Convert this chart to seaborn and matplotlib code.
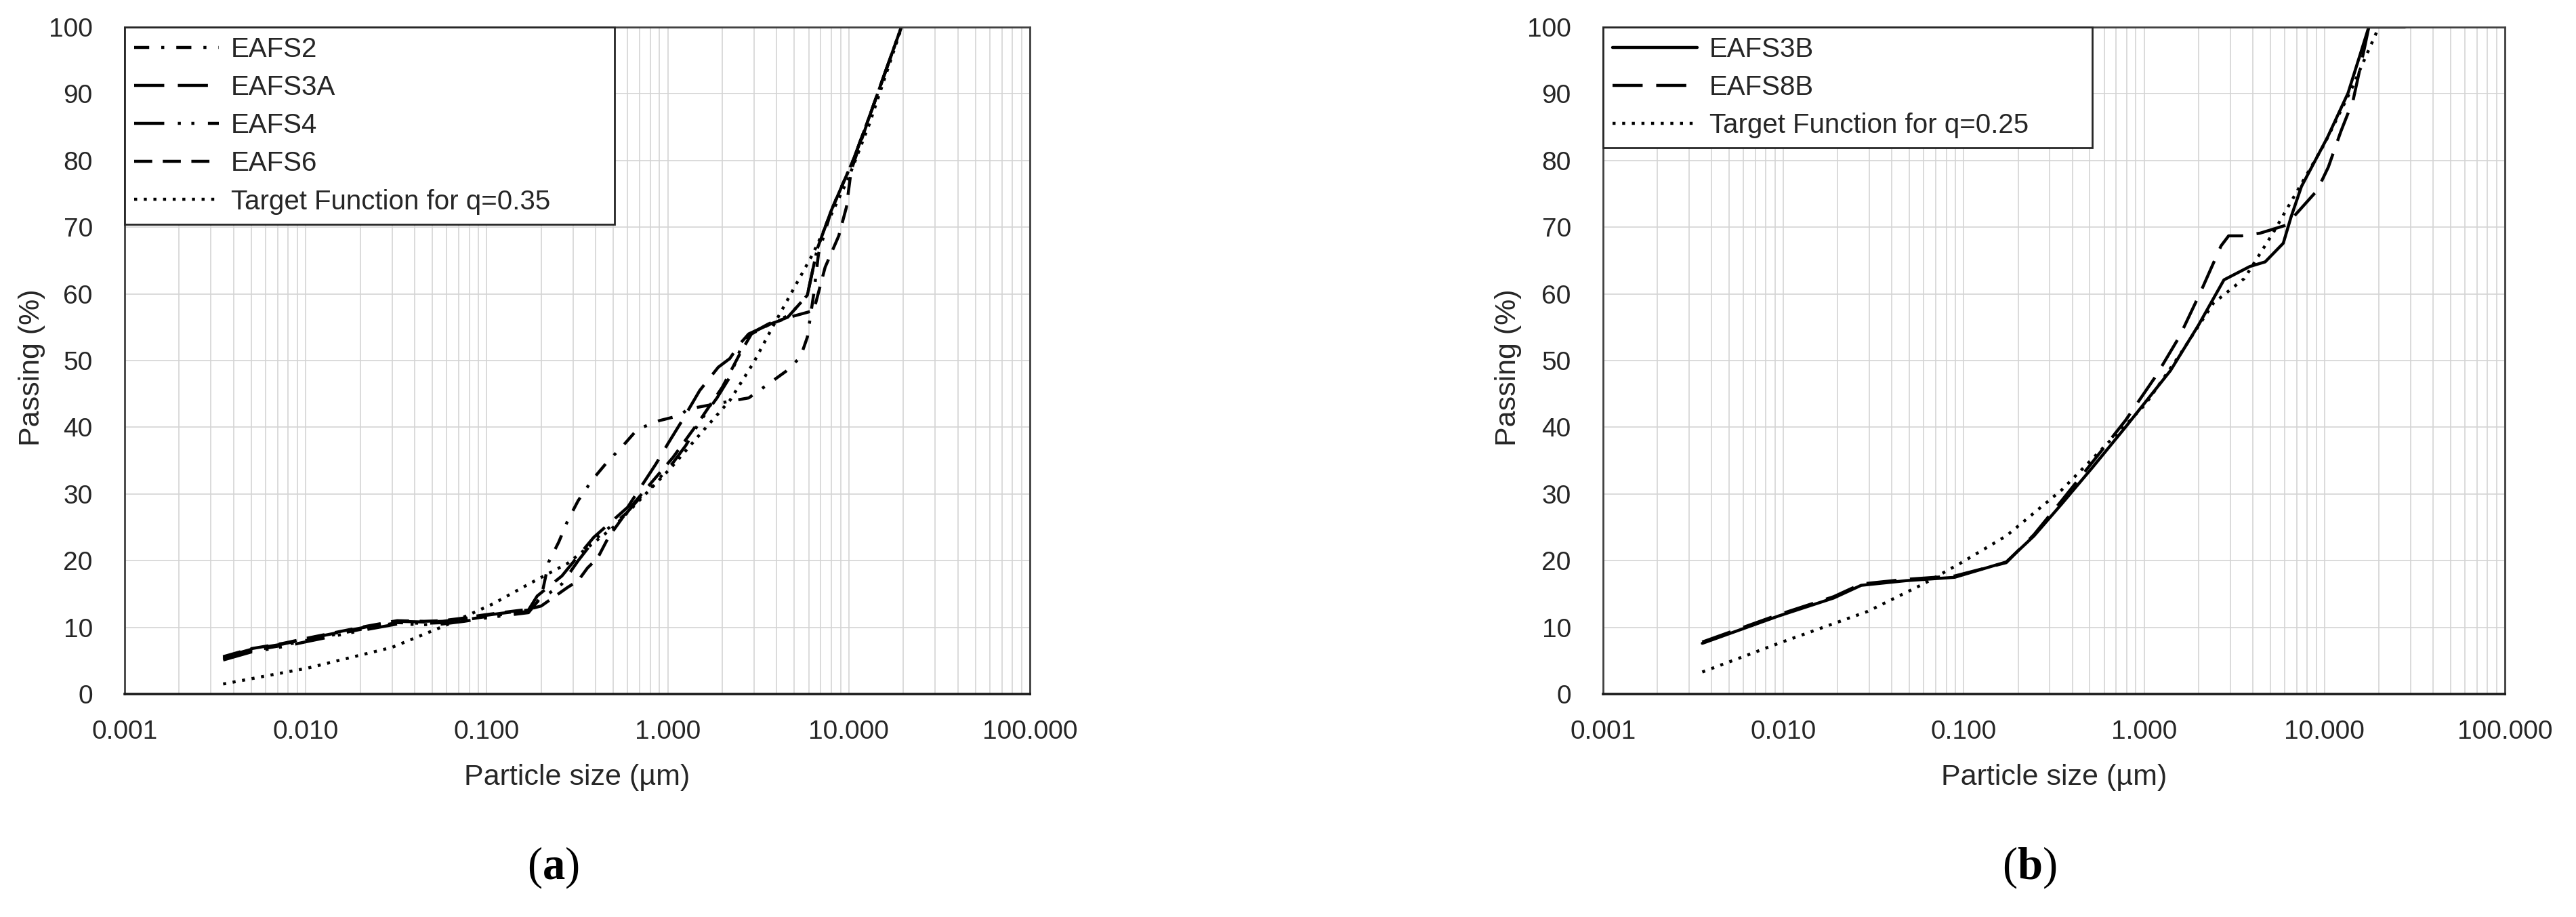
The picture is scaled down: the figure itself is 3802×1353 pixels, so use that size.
#_Environment Set up -----------------
import numpy as np
import pandas as pd
import matplotlib
matplotlib.use("Agg")
import matplotlib.pyplot as plt
import seaborn as sns
from matplotlib.ticker import LogLocator, FuncFormatter, NullFormatter

#_Data -----------------------------------------

#__Panel (a) -----------------
eafs2_x = [0.0035, 0.005, 0.0075, 0.0103, 0.015, 0.022, 0.032, 0.045, 0.057, 0.075, 0.093, 0.12, 0.17,
           0.20, 0.22, 0.25, 0.28, 0.32, 0.38, 0.46, 0.56, 0.68, 0.90,
           1.18, 1.28, 2.2, 2.8, 3.6, 4.5, 5.4, 5.9, 6.4, 6.8, 8.0, 10.7, 13.0, 19.5]
eafs2_y = [5.3, 6.5, 7.3, 8.1, 9.0, 9.9, 10.7, 10.6, 10.7, 11.1, 11.5, 11.9, 12.4,
           14.5, 19.8, 22.8, 26.0, 29.0, 32.0, 34.7, 37.1, 39.7, 41.0,
           41.8, 42.7, 43.9, 44.4, 46.5, 48.4, 50.5, 53.5, 60.0, 66.0, 72.5, 80.4, 86.6, 100.0]

eafs3a_x = [0.0035, 0.005, 0.0075, 0.0103, 0.015, 0.022, 0.032, 0.045, 0.057, 0.075, 0.093, 0.12, 0.17,
            0.19, 0.26, 0.32, 0.39, 0.60, 0.86, 1.0, 1.2, 1.5, 1.9, 2.2, 2.5, 2.8,
            3.7, 4.6, 5.9, 6.7, 8.0, 10.7, 13.0, 19.5]
eafs3a_y = [5.5, 6.7, 7.5, 8.3, 9.2, 10.1, 10.9, 10.8, 10.9, 11.3, 11.7, 12.1, 12.6,
            14.7, 17.7, 20.7, 23.5, 28.0, 34.5, 37.5, 41.0, 45.5, 49.0, 50.3, 52.5, 54.0,
            55.5, 56.5, 59.8, 66.8, 72.5, 80.4, 86.6, 100.0]

eafs4_x = [0.0035, 0.005, 0.0075, 0.0103, 0.015, 0.022, 0.032, 0.045, 0.057, 0.075, 0.093, 0.12, 0.17,
           0.19, 0.26, 0.32, 0.39, 0.59, 0.70, 0.83, 1.07, 1.26, 1.49, 1.87, 2.2, 2.51, 2.77,
           3.6, 4.7, 5.9, 6.7, 8.0, 10.7, 13.0, 19.5]
eafs4_y = [5.1, 6.3, 7.1, 7.9, 8.8, 9.7, 10.5, 10.4, 10.5, 10.9, 11.3, 11.7, 12.2,
           13.8, 16.5, 20.0, 23.0, 27.1, 29.4, 31.3, 34.7, 37.3, 40.7, 44.4, 47.5, 51.6, 53.8,
           55.5, 56.8, 59.8, 66.8, 72.5, 80.4, 86.6, 100.0]

eafs6_x = [0.0035, 0.005, 0.0075, 0.0103, 0.015, 0.022, 0.032, 0.045, 0.057, 0.075, 0.093, 0.12, 0.17,
           0.20, 0.28, 0.32, 0.36, 0.41, 0.46, 0.50, 0.60, 0.80, 1.07, 1.5, 2.0, 2.5, 2.9,
           3.7, 4.7, 6.4, 7.4, 8.8, 9.7, 10.3, 13.0, 19.5]
eafs6_y = [5.6, 6.8, 7.6, 8.4, 9.3, 10.2, 11.0, 10.9, 11.0, 11.4, 11.8, 12.2, 12.7,
           13.2, 16.0, 17.0, 18.9, 20.4, 23.0, 24.5, 27.5, 31.5, 35.5, 41.0, 46.0, 51.0, 54.0,
           55.5, 56.5, 57.5, 64.0, 68.7, 73.0, 78.5, 86.6, 100.0]

target_a_x = [0.0035, 0.0103, 0.030, 0.057, 0.108, 0.171, 0.28, 0.50, 1.04, 1.49, 2.2, 2.98, 3.84,
              6.33, 10.0, 13.0, 19.6]
target_a_y = [1.5, 3.9, 7.0, 10.1, 13.5, 16.5, 19.6, 25.0, 33.9, 38.8, 44.0, 49.7, 55.3,
              66.0, 77.5, 85.5, 100.0]

#__Panel (b) -----------------
eafs3b_x = [0.00355, 0.0094, 0.019, 0.027, 0.048, 0.089, 0.172, 0.245, 0.349, 0.518, 0.787, 1.4, 2.0,
            2.77, 3.85, 4.69, 5.91, 6.52, 7.45, 10.4, 13.5, 17.6, 28.0]
eafs3b_y = [7.6, 11.7, 14.4, 16.3, 17.0, 17.5, 19.8, 23.7, 28.5, 34.0, 40.0, 48.5, 55.3,
            62.1, 64.1, 64.8, 67.6, 71.5, 76.1, 83.5, 90.1, 100.0, 100.0]

eafs8b_x = [0.00355, 0.0094, 0.019, 0.027, 0.048, 0.089, 0.172, 0.245, 0.349, 0.518, 0.787, 1.17, 1.57,
            2.05, 2.67, 2.94, 3.48, 4.39, 6.12, 9.1, 10.5, 12.3, 14.4, 16.7, 17.6]
eafs8b_y = [7.8, 11.9, 14.6, 16.5, 17.2, 17.7, 19.7, 23.9, 29.0, 34.8, 41.0, 47.8, 53.6,
            60.2, 67.2, 68.7, 68.7, 69.1, 70.3, 75.5, 79.0, 84.3, 89.0, 97.0, 100.0]

target_b_x = [0.00355, 0.0094, 0.0294, 0.0597, 0.097, 0.172, 0.349, 0.80, 1.02, 1.57, 2.42, 3.59,
              5.18, 6.52, 10.0, 14.0, 20.0]
target_b_y = [3.3, 7.6, 12.4, 16.5, 19.7, 23.7, 30.6, 40.5, 43.5, 50.8, 58.6, 62.3,
              69.1, 73.8, 82.5, 90.5, 100.0]

#_Style set up -----------------
sns.set_theme(style="white")
plt.rcParams['font.family'] = ['Liberation Sans', 'DejaVu Sans']
plt.rcParams['mathtext.fontset'] = 'custom'
plt.rcParams['mathtext.rm'] = 'Liberation Serif'
plt.rcParams['mathtext.bf'] = 'Liberation Serif:bold'

TEXT = '#262626'
LW = 3.2
# dash patterns, in units of line width
DASH_DOT = (5.0, 4.0, 1.0, 4.0)
LONG_DASH = (10, 4.5)
LONG_DASH_DOT_DOT = (10, 4.5, 1, 3.5, 1, 4.5)
SHORT_DASH = (6, 3.5)
DOTS = (1, 2.2)

W, H = 3802, 1353
fig = plt.figure(figsize=(W / 100, H / 100), dpi=100)
ax_a = fig.add_axes([184 / W, 1 - 1024 / H, 1336 / W, 984 / H])
ax_b = fig.add_axes([2366 / W, 1 - 1024 / H, 1331 / W, 984 / H])


def style_axis(ax):
    ax.set_xscale('log')
    ax.set_xlim(0.001, 100)
    ax.set_ylim(0, 100)
    ax.set_yticks(range(0, 101, 10))
    ax.xaxis.set_major_locator(LogLocator(base=10, numticks=10))
    ax.xaxis.set_minor_locator(LogLocator(base=10, subs=np.arange(2, 10), numticks=100))
    ax.xaxis.set_major_formatter(FuncFormatter(lambda v, p: f'{v:.3f}'))
    ax.xaxis.set_minor_formatter(NullFormatter())
    ax.set_axisbelow(True)
    ax.grid(True, which='major', color='#d4d4d4', lw=1.2)
    ax.grid(True, which='minor', axis='x', color='#d4d4d4', lw=1.2)
    ax.tick_params(which='both', length=0, labelsize=28, colors=TEXT)
    ax.tick_params(axis='x', pad=27)
    ax.tick_params(axis='y', pad=34)
    for s in ax.spines.values():
        s.set_visible(True)
        s.set_color('#404040')
        s.set_linewidth(2)
    ax.spines['bottom'].set_color('#1a1a1a')
    ax.spines['bottom'].set_linewidth(2.6)


def draw(ax, x, y, label, dashes):
    sns.lineplot(x=x, y=y, ax=ax, color='black', lw=LW, label=label,
                 estimator=None, sort=False)
    line = ax.lines[-1]
    if dashes:
        line.set_dashes(dashes)
    line.set_dash_capstyle('butt')


def finish(ax, width_frac, label_x):
    leg = ax.legend(loc='upper left', bbox_to_anchor=(0, 0, width_frac, 1), mode='expand',
                    borderaxespad=0, frameon=True, fancybox=False, framealpha=1,
                    edgecolor=TEXT, fontsize=29, handlelength=3.1, handletextpad=0.45,
                    labelspacing=0.45, borderpad=0.35)
    leg.get_frame().set_linewidth(2)
    for t in leg.get_texts():
        t.set_color(TEXT)
    ax.set_xlabel('Particle size (µm)', fontsize=31, color=TEXT)
    ax.set_ylabel('Passing (%)', fontsize=31, color=TEXT)
    ax.xaxis.label.set_va('center')
    ax.yaxis.label.set_va('center')
    ax.xaxis.set_label_coords(0.5, -0.125)
    ax.yaxis.set_label_coords(label_x, 0.49)


#_Panel (a) -----------------
style_axis(ax_a)
draw(ax_a, eafs2_x, eafs2_y, 'EAFS2', DASH_DOT)
draw(ax_a, eafs3a_x, eafs3a_y, 'EAFS3A', LONG_DASH)
draw(ax_a, eafs4_x, eafs4_y, 'EAFS4', LONG_DASH_DOT_DOT)
draw(ax_a, eafs6_x, eafs6_y, 'EAFS6', SHORT_DASH)
draw(ax_a, target_a_x, target_a_y, 'Target Function for q=0.35', DOTS)
finish(ax_a, 723 / 1336, -0.1025)

#_Panel (b) -----------------
style_axis(ax_b)
draw(ax_b, eafs3b_x, eafs3b_y, 'EAFS3B', None)
draw(ax_b, eafs8b_x, eafs8b_y, 'EAFS8B', LONG_DASH)
draw(ax_b, target_b_x, target_b_y, 'Target Function for q=0.25', DOTS)
finish(ax_b, 722 / 1331, -0.105)

#_Panel captions -----------------
fig.text(816 / W, 1 - 1280 / H, r'($\mathbf{a}$)', ha='center', va='center',
         fontsize=48, family='Liberation Serif', color='black')
fig.text(2995 / W, 1 - 1280 / H, r'($\mathbf{b}$)', ha='center', va='center',
         fontsize=48, family='Liberation Serif', color='black')

fig.savefig('out.png', dpi=100, facecolor='white')
plt.close()
